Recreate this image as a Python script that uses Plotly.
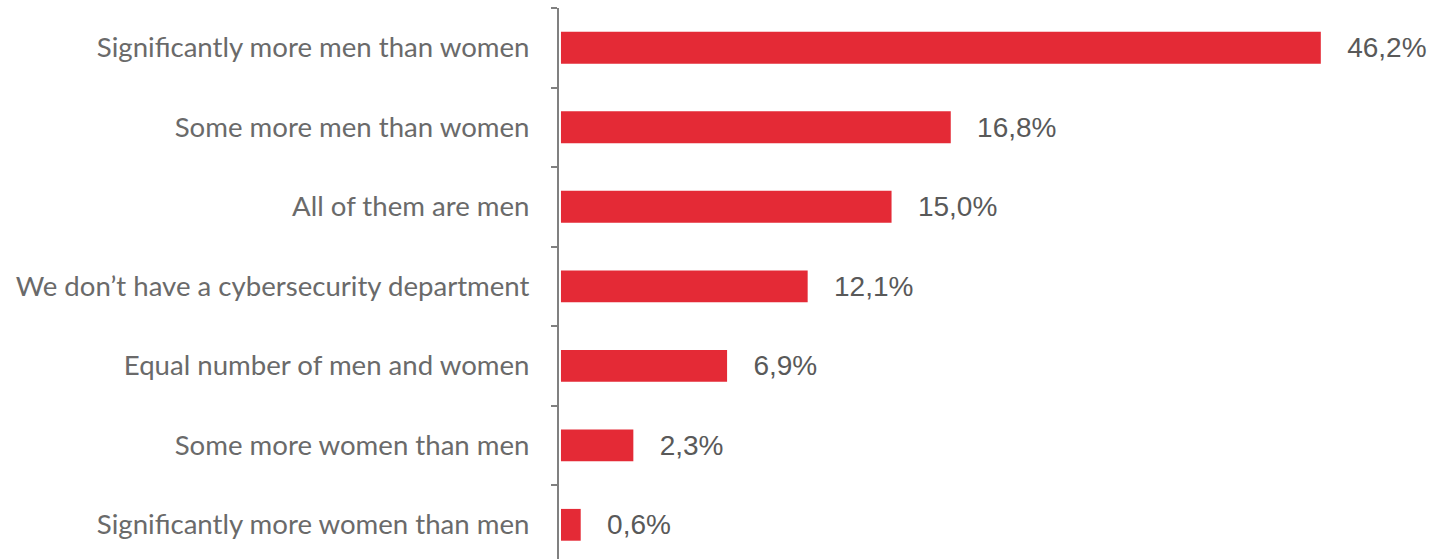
import plotly.graph_objects as go

categories = [
    "Significantly more men than women",
    "Some more men than women",
    "All of them are men",
    "We don\u2019t have a cybersecurity department",
    "Equal number of men and women",
    "Some more women than men",
    "Significantly more women than men",
]
# Reported values (shown as labels)
values = [46.2, 16.8, 15.0, 12.1, 6.9, 2.3, 0.6]
value_labels = ["46,2%", "16,8%", "15,0%", "12,1%", "6,9%", "2,3%", "0,6%"]
# Bar lengths as drawn in the original (not proportional to reported values)
bar_lengths = [46.2, 23.7, 20.1, 15.0, 10.1, 4.4, 1.2]

fig = go.Figure()
fig.add_trace(go.Bar(
    y=categories,
    x=bar_lengths,
    orientation="h",
    marker=dict(color="#E42A36", line=dict(width=0)),
    width=0.4,
    text=["\u00a0\u00a0\u00a0" + t for t in value_labels],
    textposition="outside",
    textfont=dict(family="Liberation Sans, Arial, sans-serif", size=28, color="#595959"),
    cliponaxis=False,
    hoverinfo="skip",
))

fig.update_layout(
    width=1431, height=559,
    margin=dict(l=559, r=0, t=8, b=0),
    paper_bgcolor="white", plot_bgcolor="white",
    showlegend=False,
    xaxis=dict(range=[-0.12, 52.9], visible=False, fixedrange=True),
    yaxis=dict(
        type="category",
        categoryorder="array", categoryarray=categories,
        range=[6.43, -0.5],
        showline=True, linecolor="#808080", linewidth=2,
        ticks="outside", tickson="boundaries", ticklen=6, tickcolor="#808080", tickwidth=2,
        ticklabelstandoff=22,
        showgrid=False, zeroline=False,
        tickfont=dict(family="Lato, Open Sans, sans-serif", size=27.6, color="#6a6a6a"),
    ),
)

fig.write_html("out.html")
